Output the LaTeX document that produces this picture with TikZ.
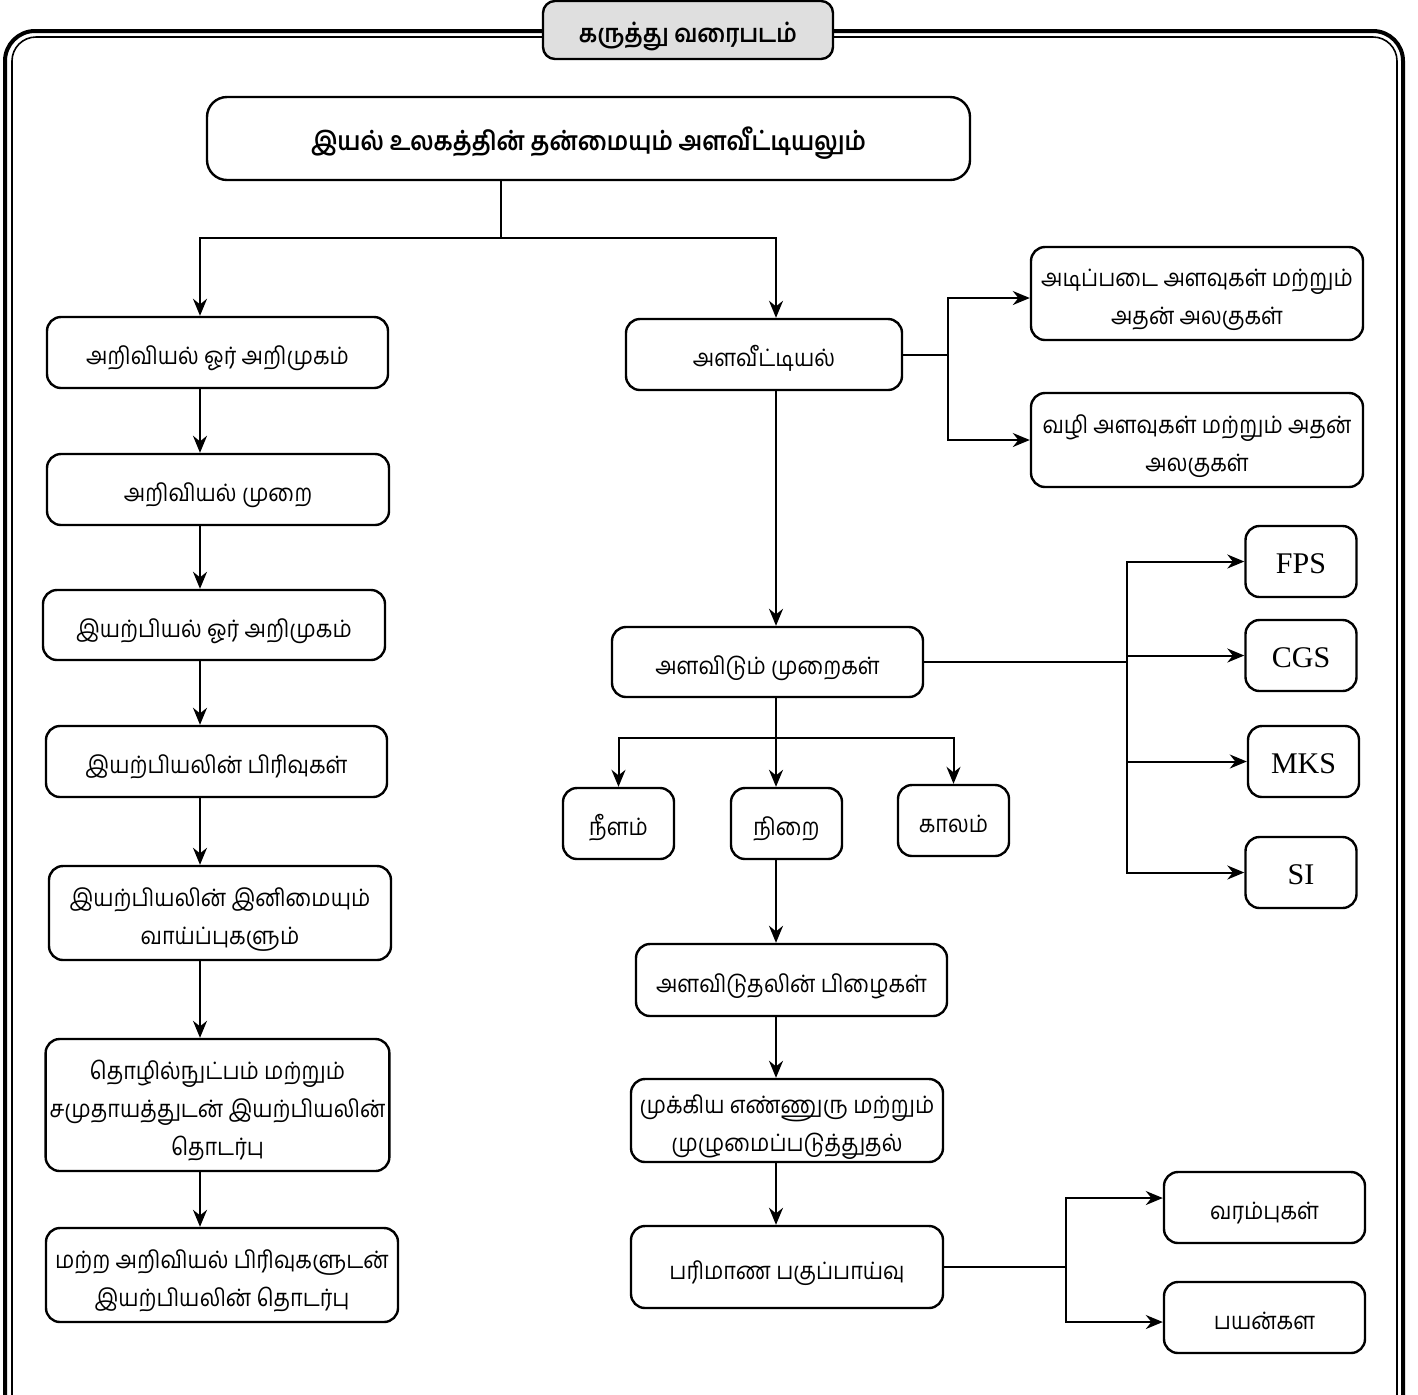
\documentclass[tikz,border=0pt]{standalone}
\usepackage{fontspec}
\setmainfont{Liberation Serif}
\newfontfamily\tamil[Script=Tamil, FakeStretch=0.9]{Hind Madurai}
\usetikzlibrary{arrows.meta,positioning}

\begin{document}
\begin{tikzpicture}[x=0.5pt, y=-0.5pt,
  base/.style={draw, rounded corners=7pt, line width=1.2pt, align=center,
               font=\tamil\fontsize{12}{19}\selectfont, inner sep=2pt},
  box/.style={base, text height=14.5pt, text depth=2.5pt},
  wrapbox/.style={base, text height=#1, text depth=2.5pt},
  wrapbox/.default=33.5pt,
  head/.style={box, font=\tamil\bfseries\fontsize{13}{16}\selectfont},
  unitbox/.style={box, font=\fontsize{15}{18}\selectfont,
                  minimum width=55.5pt, minimum height=35.5pt},
  qty/.style={box, minimum width=55.5pt, minimum height=35.5pt},
  arr/.style={-{Stealth[length=8.5pt, width=7pt]}, line width=1pt},
  wire/.style={line width=1pt}]
  \useasboundingbox (0,0) rectangle (1418,1394);
  \draw[line width=2pt, rounded corners=15pt] (5,31) rectangle (1403,1440);
  \draw[line width=0.8pt, rounded corners=12pt] (12,37) rectangle (1397,1434);
  \node[head, fill=gray!25, rounded corners=6pt, minimum width=145pt, minimum height=29pt, font=\tamil\bfseries\fontsize{12.5}{15}\selectfont] (title) at (688,30) {கருத்து வரைபடம்};
  \node[head, rounded corners=10pt, minimum width=381.5pt, minimum height=41.5pt] (main) at (588.5,138.5) {இயல் உலகத்தின் தன்மையும் அளவீட்டியலும்};

  \node[box, minimum width=170.5pt, minimum height=35.5pt] (intro) at (217.5,352.5) {அறிவியல் ஓர் அறிமுகம்};
  \node[box, minimum width=171pt, minimum height=35.5pt] (method) at (218,489.5) {அறிவியல் முறை};
  \node[box, minimum width=171pt, minimum height=35pt] (phys) at (214,625) {இயற்பியல் ஓர் அறிமுகம்};
  \node[box, minimum width=170.5pt, minimum height=35.5pt] (branch) at (216.5,761.5) {இயற்பியலின் பிரிவுகள்};
  \node[wrapbox, minimum width=171pt, minimum height=47pt] (scope) at (220,913) {இயற்பியலின் இனிமையும்\\வாய்ப்புகளும்};
  \node[wrapbox=52.5pt, minimum width=170.5pt, minimum height=66pt] (society) at (217.5,1105) {தொழில்நுட்பம் மற்றும்\\சமுதாயத்துடன் இயற்பியலின்\\தொடர்பு};
  \node[wrapbox, minimum width=176pt, minimum height=47pt] (others) at (222,1275) {மற்ற அறிவியல் பிரிவுகளுடன்\\இயற்பியலின் தொடர்பு};

  \node[box, minimum width=138pt, minimum height=35.5pt] (metro) at (764,354.5) {அளவீட்டியல்};
  \node[wrapbox, minimum width=166pt, minimum height=46.5pt] (basic) at (1197,293.5) {அடிப்படை அளவுகள் மற்றும்\\அதன் அலகுகள்};
  \node[wrapbox, minimum width=166pt, minimum height=47pt] (derived) at (1197,440) {வழி அளவுகள் மற்றும் அதன்\\அலகுகள்};
  \node[box, minimum width=155.5pt, minimum height=35pt] (methods) at (767.5,662) {அளவிடும் முறைகள்};
  \node[unitbox] (fps) at (1301,561.5) {FPS};
  \node[unitbox] (cgs) at (1301,655.5) {CGS};
  \node[unitbox] (mks) at (1303.5,761.5) {MKS};
  \node[unitbox] (si) at (1301,872.5) {SI};
  \node[qty] (length) at (618.5,823.5) {நீளம்};
  \node[qty] (mass) at (786.5,823.5) {நிறை};
  \node[qty] (time) at (953.5,820.5) {காலம்};
  \node[box, minimum width=155.5pt, minimum height=36pt] (errors) at (791.5,980) {அளவிடுதலின் பிழைகள்};
  \node[wrapbox, minimum width=156pt, minimum height=41.5pt] (figures) at (787,1120.5) {முக்கிய எண்ணுரு மற்றும்\\முழுமைப்படுத்துதல்};
  \node[box, minimum width=156pt, minimum height=41pt] (dims) at (787,1267) {பரிமாண பகுப்பாய்வு};
  \node[box, minimum width=100.5pt, minimum height=35.5pt] (limits) at (1264.5,1207.5) {வரம்புகள்};
  \node[box, minimum width=100.5pt, minimum height=35.5pt] (uses) at (1264.5,1317.5) {பயன்கள};

  \coordinate (lx) at (200,0);
  \coordinate (rx) at (776,0);
  \coordinate (split) at (501,238);
  \coordinate (mfork) at (948,0);
  \coordinate (sfork) at (1127,0);
  \coordinate (qsplit) at (776,738);
  \coordinate (dfork) at (1066,0);

  \draw[wire] (main.south -| split) -- (split);
  \draw[arr] (split) -| (intro.north -| lx);
  \draw[arr] (split) -| (metro.north -| rx);
  \foreach \a/\b in {intro/method, method/phys, phys/branch, branch/scope, scope/society, society/others}
    \draw[arr] (\a.south -| lx) -- (\b.north -| lx);

  \draw[wire] (metro.east) -- (metro.east -| mfork);
  \draw[arr] (metro.east -| mfork) |- ([yshift=-2.25pt]basic.west);
  \draw[arr] (metro.east -| mfork) |- (derived.west);
  \draw[arr] (metro.south -| rx) -- (methods.north -| rx);

  \draw[wire] (methods.east) -- (methods.east -| sfork);
  \foreach \u in {fps, cgs, mks, si}
    \draw[arr] (methods.east -| sfork) |- (\u.west);

  \draw[wire] (methods.south -| rx) -- (qsplit);
  \draw[arr] (qsplit) -| (length.north);
  \draw[arr] (qsplit) -- (mass.north -| rx);
  \draw[arr] (qsplit) -| (time.north);

  \draw[arr] (mass.south -| rx) -- (errors.north -| rx);
  \draw[arr] (errors.south -| rx) -- (figures.north -| rx);
  \draw[arr] (figures.south -| rx) -- (dims.north -| rx);

  \draw[wire] (dims.east) -- (dims.east -| dfork);
  \draw[arr] (dims.east -| dfork) |- ([yshift=4.75pt]limits.west);
  \draw[arr] (dims.east -| dfork) |- ([yshift=-2.25pt]uses.west);
\end{tikzpicture}
\end{document}
